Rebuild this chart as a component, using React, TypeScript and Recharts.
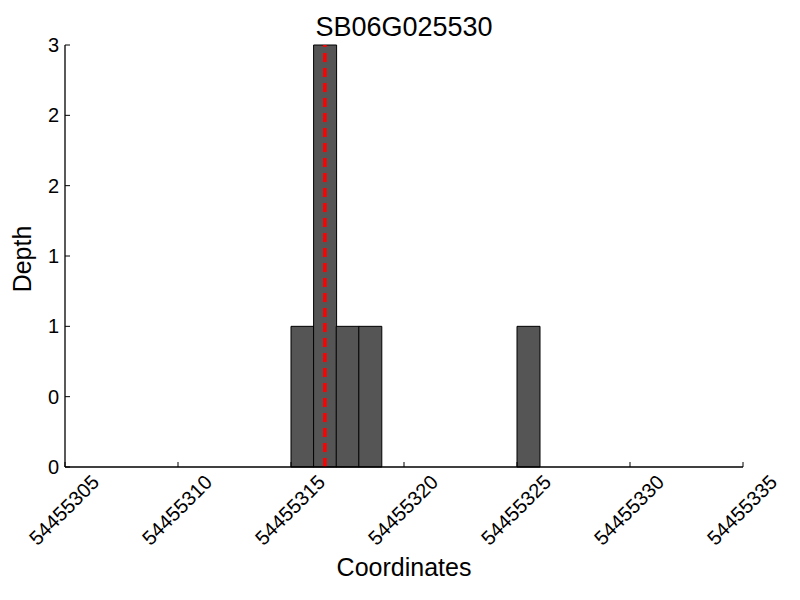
import React from 'react';
import { ComposedChart, Bar, XAxis, YAxis, ReferenceLine } from 'recharts';

// ---- data ----
const binStarts = [54455315, 54455316, 54455317, 54455318, 54455325];
const depthValues = [1, 3, 1, 1, 1];
const binWidth = 1;
const xTicks = [54455305, 54455310, 54455315, 54455320, 54455325, 54455330, 54455335];
const xDomain = [54455305, 54455335];
const yTicks = [0, 0.5, 1, 1.5, 2, 2.5, 3];
const yDomain = [0, 3];
const markerCoordinate = 54455316.5;
const chartTitle = 'SB06G025530';
const xAxisTitle = 'Coordinates';
const yAxisTitle = 'Depth';

const data = binStarts.map((s, i) => ({ center: s + binWidth / 2, depth: depthValues[i] }));

// ---- layout / style ----
const FONT = '"Liberation Sans", Arial, Helvetica, sans-serif';
const W = 800;
const H = 600;
const PLOT_LEFT = 65;
const PLOT_RIGHT = 743;
const PLOT_TOP = 45;
const PLOT_BOTTOM = 467;

const XTick = (props: any) => {
  const { payload } = props;
  const x = payload.coordinate ?? props.x;
  const cy = PLOT_BOTTOM + 43;
  return (
    <g>
      <line x1={x} y1={PLOT_BOTTOM} x2={x} y2={PLOT_BOTTOM - 5} stroke="#000" strokeWidth={1} />
      <text
        x={x - 1}
        y={cy}
        transform={`rotate(-45 ${x - 1} ${cy})`}
        textAnchor="middle"
        dominantBaseline="central"
        fontSize={20}
        fontFamily={FONT}
        fill="#000"
      >
        {payload.value}
      </text>
    </g>
  );
};

const YTick = (props: any) => {
  const { payload } = props;
  const y = payload.coordinate ?? props.y;
  return (
    <g>
      <line x1={PLOT_LEFT} y1={y} x2={PLOT_LEFT + 5} y2={y} stroke="#000" strokeWidth={1} />
      <text
        x={PLOT_LEFT - 6}
        y={y}
        textAnchor="end"
        dominantBaseline="central"
        fontSize={20}
        fontFamily={FONT}
        fill="#000"
      >
        {Math.floor(payload.value)}
      </text>
    </g>
  );
};

const XLabel = () => (
  <text
    x={(PLOT_LEFT + PLOT_RIGHT) / 2}
    y={576}
    textAnchor="middle"
    fontSize={25}
    fontFamily={FONT}
    fill="#000"
  >
    {xAxisTitle}
  </text>
);

const YLabel = () => {
  const cx = 31;
  const cy = 259;
  return (
    <text
      x={cx}
      y={cy}
      transform={`rotate(-90 ${cx} ${cy})`}
      textAnchor="middle"
      fontSize={25}
      fontFamily={FONT}
      fill="#000"
    >
      {yAxisTitle}
    </text>
  );
};

export default function App() {
  return (
    <div style={{ position: 'absolute', left: 0, top: 0, width: W, height: H, background: '#fff' }}>
      <div
        style={{
          position: 'absolute',
          left: 0,
          top: 14,
          width: (PLOT_LEFT + PLOT_RIGHT),
          textAlign: 'center',
          fontFamily: FONT,
          fontSize: 27,
          lineHeight: '27px',
          color: '#000',
        }}
      >
        {chartTitle}
      </div>
      <ComposedChart
        width={W}
        height={H}
        data={data}
        margin={{ top: PLOT_TOP, right: W - PLOT_RIGHT, bottom: 0, left: 0 }}
        barCategoryGap={0}
        barGap={0}
      >
        <XAxis
          dataKey="center"
          type="number"
          domain={xDomain}
          ticks={xTicks}
          interval={0}
          height={H - PLOT_BOTTOM}
          axisLine={{ stroke: '#000', strokeWidth: 1.3 }}
          tickLine={false}
          tick={<XTick />}
          allowDecimals={false}
          label={<XLabel />}
        />
        <YAxis
          type="number"
          domain={yDomain}
          ticks={yTicks}
          interval={0}
          width={PLOT_LEFT}
          axisLine={{ stroke: '#000', strokeWidth: 1.3 }}
          tickLine={false}
          tick={<YTick />}
          label={<YLabel />}
        />
        <Bar
          dataKey="depth"
          fill="#555555"
          stroke="#000"
          strokeWidth={1}
          isAnimationActive={false}
        />
        <ReferenceLine
          x={markerCoordinate}
          stroke="#ff0000"
          strokeWidth={3.5}
          strokeDasharray="9 6"
        />
      </ComposedChart>
    </div>
  );
}
